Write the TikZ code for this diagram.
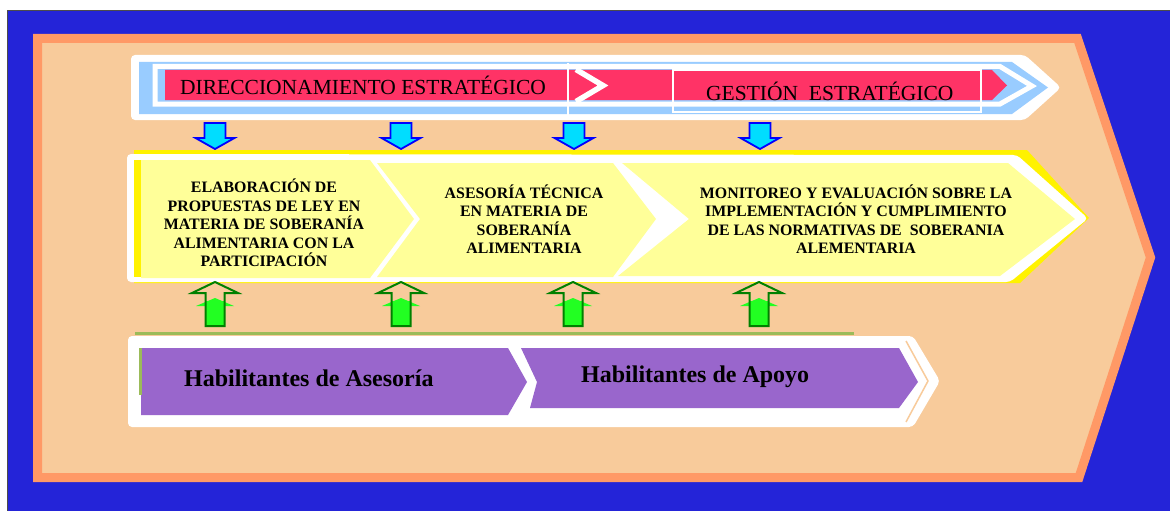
\documentclass[tikz,border=0pt]{standalone}
\usepackage{fontspec}
\setmainfont{Liberation Serif}
\definecolor{bgblue}{RGB}{36,36,216}
\definecolor{orangeb}{RGB}{255,153,102}
\definecolor{peach}{RGB}{248,203,155}
\definecolor{lblue}{RGB}{153,204,255}
\definecolor{pinkr}{RGB}{255,51,102}
\definecolor{lyellow}{RGB}{255,255,153}
\definecolor{cyanA}{RGB}{0,221,255}
\definecolor{greenD}{RGB}{0,128,0}
\definecolor{greenL}{RGB}{34,255,34}
\definecolor{greenLine}{RGB}{155,187,89}
\definecolor{purp}{RGB}{153,102,204}
\tikzset{
  bartext/.style={font=\fontsize{21.5}{26}\selectfont, inner sep=0pt, anchor=base west},
  midtext/.style={font=\bfseries\fontsize{15.9}{18.5}\selectfont, align=center, inner sep=0pt},
  habtext/.style={font=\bfseries\fontsize{24}{28}\selectfont, inner sep=0pt, anchor=base west},
  downarr/.style={fill=cyanA, draw=blue, line width=1.8pt, line join=miter},
  uparr/.style={draw=greenD, line width=2pt, line join=miter},
  whitefr/.style={fill=white, rounded corners=4pt},
}
\begin{document}
\begin{tikzpicture}[x=1pt,y=-1pt]
\useasboundingbox (0,0) rectangle (1170,511);
% background
\fill[white] (0,0) rectangle (1170,511);
\fill[bgblue] (7,10) rectangle (1170,511);
\draw[black!70, line width=0.8pt] (7,511) -- (7,10) -- (1170,10);
% big orange arrow
\filldraw[fill=peach, draw=orangeb, line width=9pt, line join=miter]
  (37.5,38.5) -- (1077.5,38.5) -- (1150.5,257.5) -- (1079,477.5) -- (37.5,477.5) -- cycle;

% ---------- top bar ----------
\fill[whitefr] (131,55) -- (1025,55) -- (1061,87.5) -- (1025,120) -- (131,120) -- cycle;
\fill[lblue] (139,62) -- (1012,62) -- (1048,87.5) -- (1012,114) -- (139,114) -- cycle;
\draw[white, line width=5pt, line join=miter] (155,66.5) -- (1000,66.5) -- (1032,86) -- (1000,104) -- (155,104) -- cycle;
\fill[pinkr] (165,70) -- (992,70) -- (1007,85.5) -- (992,100) -- (165,100) -- cycle;
\draw[white, line width=1.5pt] (568,63) -- (568,115);
\draw[white, line width=5.5pt, line join=miter] (576,69.5) -- (603,85.5) -- (576,101.5);
\draw[white, line width=1.2pt] (673,70) rectangle (981,112);
\node[bartext] (dir) at (180,95) {DIRECCIONAMIENTO ESTRATÉGICO};
\node[bartext] (ges) at (706,100) {GESTIÓN~~ESTRATÉGICO};

% ---------- down arrows ----------
\foreach \cx in {215,401,574,760}{
  \draw[downarr] (\cx-10.5,123) -- (\cx+10.5,123) -- (\cx+10.5,138) -- (\cx+19.5,138)
     -- (\cx,149) -- (\cx-19.5,138) -- (\cx-10.5,138) -- cycle;
}

% ---------- middle section ----------
\fill[yellow] (134,150) -- (1027,150) -- (1089,218) -- (1020,283) -- (134,283) -- cycle;
\fill[whitefr] (127,154) -- (1017,155) -- (1088,218.5) -- (1010,282) -- (127,282) -- cycle;
\fill[yellow] (134,160) rectangle (141,277);
\fill[lyellow] (141,160) -- (370,160) -- (414,219) -- (370,278) -- (141,278) -- cycle;
\fill[lyellow] (377,163) -- (613,163) -- (656,219) -- (613,277) -- (377,277) -- (420,219) -- cycle;
\fill[lyellow] (622,163) -- (1008,163) -- (1075,219) -- (1000,276) -- (618,276) -- (689,219) -- cycle;
\node[midtext] (t1) at (264,223) {ELABORACIÓN DE\\PROPUESTAS DE LEY EN\\MATERIA DE SOBERANÍA\\ALIMENTARIA CON LA\\PARTICIPACIÓN};
\node[midtext] (t2) at (524,219) {ASESORÍA TÉCNICA\\EN MATERIA DE\\SOBERANÍA\\ALIMENTARIA};
\node[midtext] (t3) at (856,219) {MONITOREO Y EVALUACIÓN SOBRE LA\\IMPLEMENTACIÓN Y CUMPLIMIENTO\\DE LAS NORMATIVAS DE~~SOBERANIA\\ALEMENTARIA};

% ---------- up arrows ----------
\foreach \cx in {215,401,573,759}{
  \fill[greenL] (\cx-19,306) -- (\cx,298) -- (\cx+19,306) -- cycle;
  \fill[greenL] (\cx-9.5,301) rectangle (\cx+9.5,326);
  \draw[uparr] (\cx-9.5,326) -- (\cx-9.5,293) -- (\cx-23,293) -- (\cx,282)
     -- (\cx+23,293) -- (\cx+9.5,293) -- (\cx+9.5,326) -- cycle;
}

% ---------- bottom section ----------
\fill[greenLine] (135,331.5) rectangle (854,335);
\fill[whitefr] (128,336) -- (913,336) -- (940,381) -- (913,427) -- (128,427) -- cycle;
\draw[peach, line width=1.5pt] (906,341) -- (928,381) -- (906,422);
\fill[purp] (141,348) -- (508,348) -- (527,382) -- (508,415) -- (141,415) -- cycle;
\fill[purp] (521,348) -- (899,348) -- (918,382) -- (899,408) -- (530,408) -- (537,382) -- cycle;
\fill[greenLine] (139,348) rectangle (141.5,395);
\node[habtext] (h1) at (184,386) {Habilitantes de Asesoría};
\node[habtext] (h2) at (581,382) {Habilitantes de Apoyo};
\end{tikzpicture}
\end{document}
